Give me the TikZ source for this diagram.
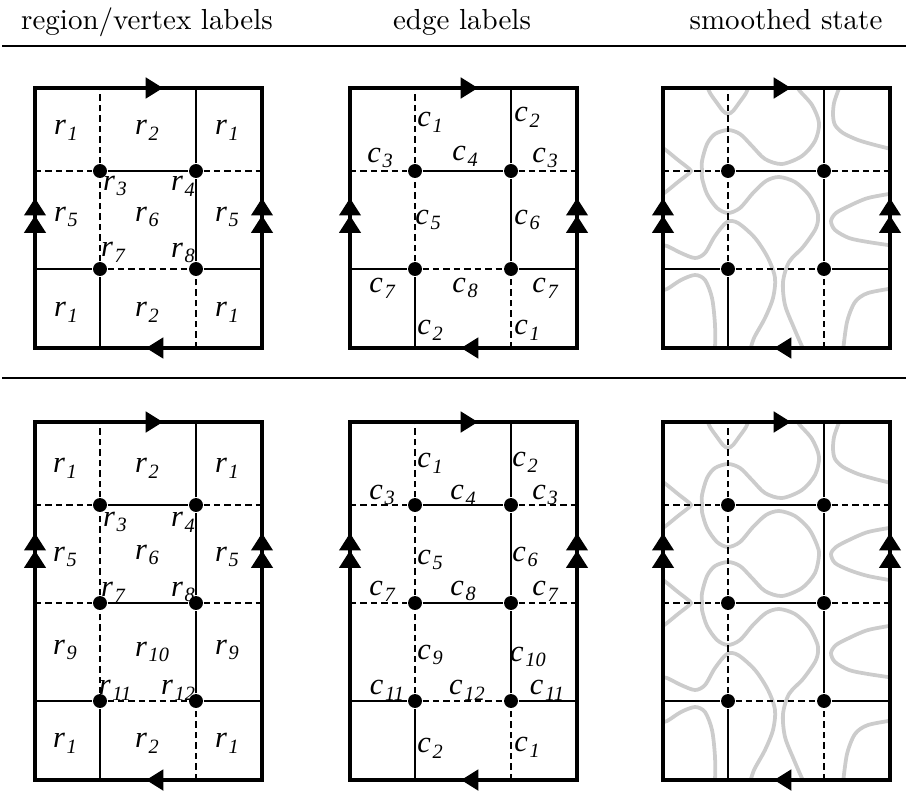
\documentclass[tikz,border=0pt]{standalone}
\usepackage{fontspec}
\newfontfamily\labelfont{Liberation Serif}
\usetikzlibrary{arrows.meta}

\tikzset{
  domainbox/.style={line width=1.4pt},
  rung/.style={line width=0.6pt},
  dashedrung/.style={rung, dash pattern=on 2.2pt off 1.4pt},
  vertex/.style={circle, fill, inner sep=0pt, minimum size=4.8pt},
  statecurve/.style={line width=1.3pt, black!20},
  lbl/.style={inner sep=0pt, font=\labelfont\itshape\fontsize{10.5}{12}\selectfont},
  head/.style={anchor=base},
  fwd/.style={-{Triangle[length=6pt,width=7pt]}},
  dbl/.style={-{Triangle[length=6pt,width=7.2pt]Triangle[length=6pt,width=7.2pt]}},
}

% italic letter with a lowered index
\newcommand{\withidx}[2]{#1\kern0.6pt\raisebox{-2pt}{\fontsize{7}{8}\selectfont#2}}

% square with the side identifications: #1 top edge, #2 tip of the double arrow
\newcommand{\fundomain}[2]{%
  \draw[domainbox] (0,0) rectangle (227,#1);
  \draw[domainbox,fwd] (0,#1) -- (128,#1);
  \draw[domainbox,fwd] (227,0) -- (111,0);
  \draw[domainbox,dbl] (0,0) -- (0,#2);
  \draw[domainbox,dbl] (227,0) -- (227,#2);
}

% vertices and edges: #1 top edge, #2 heights of the rungs above the lowest one
\newcommand{\gridgraph}[2]{%
  \coordinate (bl) at (65,0);
  \coordinate (br) at (161,0);
  \coordinate (tl) at (65,#1);
  \coordinate (tr) at (161,#1);
  \foreach \y [count=\i, remember=\i as \j (initially 0)] in {79,#2} {
    \node[vertex] (vl\i) at (65,\y) {};
    \node[vertex] (vr\i) at (161,\y) {};
    \coordinate (wl\i) at (0,\y);
    \coordinate (wr\i) at (227,\y);
    \ifnum\i=1
      \draw[rung] (wl1) -- (vl1) (vr1) -- (wr1) (bl) -- (vl1);
      \draw[dashedrung] (vl1) -- (vr1) (br) -- (vr1);
    \else
      \draw[rung] (vl\i) -- (vr\i) (vr\j) -- (vr\i);
      \draw[dashedrung] (wl\i) -- (vl\i) (vr\i) -- (wr\i) (vl\j) -- (vl\i);
    \fi
    \xdef\toprung{\i}
  }
  \draw[rung] (vr\toprung) -- (tr);
  \draw[dashedrung] (vl\toprung) -- (tl);
}

% state arcs in the two lowest rows
\newcommand{\statebottom}{%
  \draw[statecurve] plot[smooth] coordinates {(232,155) (205,150) (186,142) (173,135) (168,127) (172,118) (186,110) (205,106) (232,102)};
  \draw[statecurve] plot[smooth] coordinates {(-3,103) (4,102) (18,95) (32,90) (42,95) (52,112) (64,126) (75,125) (92,110) (105,90) (112,70) (110,50) (102,30) (91,10) (87,-3)};
  \draw[statecurve] plot[smooth] coordinates {(-3,58) (4,59) (18,68) (32,73) (42,68) (49,50) (52,23) (52,-3)};
  \draw[statecurve] plot[smooth] coordinates {(232,60) (205,55) (192,46) (184,26) (180,-3)};
}

% state arcs of the top row, #1 = height of the highest rung
\newcommand{\statetop}[1]{%
  \begin{scope}[shift={(0,#1)}]
    \draw[statecurve] plot[smooth] coordinates {(43,88) (47,78) (54,68) (60,60) (65,57) (70,60) (76,68) (83,78) (87,88)};
    \draw[statecurve] plot[smooth] coordinates {(178,88) (175,80) (171,68) (170,56) (172,46) (180,38) (195,31) (212,26) (232,21)};
  \end{scope}
}

\begin{document}
\begin{tikzpicture}[x=0.345pt, y=0.345pt]
\useasboundingbox (0,0) rectangle (906,794);

% table head
\node[head] (h1) at (147,764) {region/vertex labels};
\node[head] (h2) at (462,764) {edge labels};
\node[head] (h3) at (786,764) {smoothed state};
\draw[line width=0.6pt] (2,748) -- (906,748);
\draw[line width=0.6pt] (2,416) -- (906,416);

% ---- one rung of width 2 ----
\begin{scope}[shift={(35,446)}, name prefix=A-]
  \gridgraph{260}{177}
  \fundomain{260}{150}
  \foreach \t/\x/\y [count=\k] in {1/31/218, 2/112/218, 1/192/218, 3/80/162, 4/148/162,
      5/31/131, 6/112/131, 5/192/131, 7/78/96, 8/148/95, 1/31/36, 2/112/36, 1/192/36}
    \node[lbl] (lab\k) at (\x,\y) {\withidx{r}{\t}};
\end{scope}

\begin{scope}[shift={(350,446)}, name prefix=B-]
  \gridgraph{260}{177}
  \fundomain{260}{150}
  \foreach \t/\x/\y [count=\k] in {1/80/226, 2/177/231, 3/30/190, 4/115/192, 3/195/190,
      5/78/128, 6/177/128, 7/32/60, 8/115/60, 7/195/60, 2/80/18, 1/177/18}
    \node[lbl] (lab\k) at (\x,\y) {\withidx{c}{\t}};
\end{scope}

\begin{scope}[shift={(663,446)}, name prefix=C-]
  \begin{scope}
    \clip (0,0) rectangle (227,260);
    \statetop{177}
    \statebottom
    \foreach \h in {177}
      \draw[statecurve, shift={(0,\h)}] plot[smooth] coordinates {(-3,25) (4,20) (15,11) (24,4) (28,0) (24,-4) (15,-11) (4,-20) (-3,-25)};
    \draw[statecurve] plot[smooth] coordinates {(133,265) (136,258) (149,243) (156,225) (152,207) (139,192) (119,184) (102,189) (89,202) (77,214) (65,218) (52,214) (44,204) (39,187) (39,177) (39,170) (44,154) (54,140) (65,135) (77,140) (90,155) (103,167) (116,171) (132,166) (146,153) (154,137) (155,128) (152,118) (140,101) (126,86) (120,66) (122,43) (131,20) (141,-3)};
  \end{scope}
  \gridgraph{260}{177}
  \fundomain{260}{150}
\end{scope}

% ---- two rungs ----
\begin{scope}[shift={(35,14)}, name prefix=D-]
  \gridgraph{358}{177,275}
  \fundomain{358}{247}
  \foreach \t/\x/\y [count=\k] in {1/30/312, 2/112/312, 1/192/312, 3/80/258, 4/148/258,
      5/30/223, 6/112/225, 5/192/223, 7/78/188, 8/148/188, 9/30/130, 10/117/128, 9/192/130,
      11/80/90, 12/143/90, 1/30/37, 2/112/37, 1/192/37}
    \node[lbl] (lab\k) at (\x,\y) {\withidx{r}{\t}};
\end{scope}

\begin{scope}[shift={(350,14)}, name prefix=E-]
  \gridgraph{358}{177,275}
  \fundomain{358}{247}
  \foreach \t/\x/\y [count=\k] in {1/80/317, 2/175/318, 3/32/285, 4/113/285, 3/195/285,
      5/80/220, 6/175/223, 7/32/189, 8/113/189, 7/195/189, 9/80/125, 10/178/123,
      11/37/90, 12/117/90, 11/197/90, 2/80/32, 1/177/33}
    \node[lbl] (lab\k) at (\x,\y) {\withidx{c}{\t}};
\end{scope}

\begin{scope}[shift={(663,14)}, name prefix=F-]
  \begin{scope}
    \clip (0,0) rectangle (227,358);
    \statetop{275}
    \statebottom
    \foreach \h in {177,275}
      \draw[statecurve, shift={(0,\h)}] plot[smooth] coordinates {(-3,25) (4,20) (15,11) (24,4) (28,0) (24,-4) (15,-11) (4,-20) (-3,-25)};
    \draw[statecurve] plot[smooth] coordinates {(232,253) (205,248) (186,240) (173,233) (168,226) (172,217) (186,210) (205,204) (232,199)};
    \draw[statecurve] plot[smooth] coordinates {(133,363) (136,356) (149,341) (156,323) (152,305) (139,290) (119,282) (102,287) (89,300) (77,312) (65,316) (52,312) (44,302) (39,285) (39,275) (39,268) (44,252) (54,238) (65,233) (77,238) (90,253) (103,265) (116,269) (132,264) (146,251) (154,235) (156,225) (152,207) (139,192) (119,184) (102,189) (89,202) (77,214) (65,218) (52,214) (44,204) (39,187) (39,177) (39,170) (44,154) (54,140) (65,135) (77,140) (90,155) (103,167) (116,171) (132,166) (146,153) (154,137) (155,128) (152,118) (140,101) (126,86) (120,66) (122,43) (131,20) (141,-3)};
  \end{scope}
  \gridgraph{358}{177,275}
  \fundomain{358}{247}
\end{scope}
\end{tikzpicture}
\end{document}
